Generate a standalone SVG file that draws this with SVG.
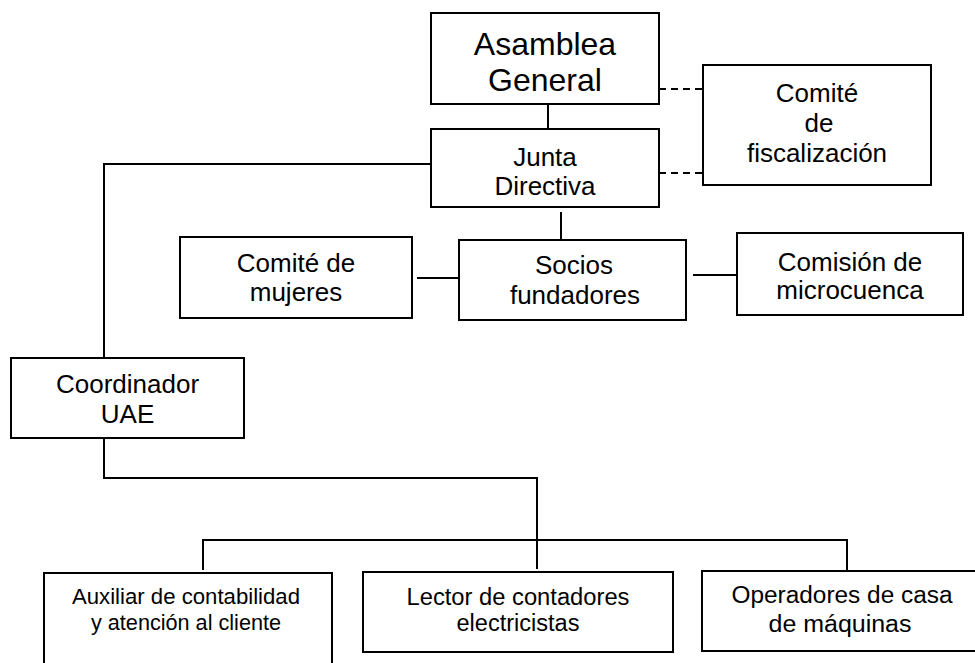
<svg xmlns="http://www.w3.org/2000/svg" width="975" height="663" viewBox="0 0 975 663">
<style>
.box{fill:#fff;stroke:#000;stroke-width:2}
.ln{fill:none;stroke:#000;stroke-width:2}
.dash{fill:none;stroke:#000;stroke-width:2;stroke-dasharray:7,5}
text{font-family:"Liberation Sans",Arial,sans-serif;fill:#000;text-anchor:middle}
.big{font-size:32px}
.mid{font-size:26px}
.sm{font-size:23px}
.xs{font-size:22px}
</style>
<rect width="975" height="663" fill="#fff"/>
<g id="connectors">
<line class="ln" x1="548" y1="104" x2="548" y2="129"/>
<line class="dash" x1="659" y1="89" x2="703" y2="89"/>
<line class="dash" x1="659" y1="173" x2="703" y2="173"/>
<polyline class="ln" points="431,164 104,164 104,358"/>
<line class="ln" x1="561" y1="212" x2="561" y2="240"/>
<line class="ln" x1="417" y1="278" x2="459" y2="278"/>
<line class="ln" x1="693" y1="275" x2="737" y2="275"/>
<polyline class="ln" points="104,438 104,478 537,478 537,569"/>
<polyline class="ln" points="203,570 203,540 847,540 847,570"/>
</g>
<g id="asamblea">
<rect class="box" x="431" y="13" width="228" height="91"/>
<text class="big" x="545" y="55">Asamblea</text>
<text class="big" x="545" y="91">General</text>
</g>
<g id="junta">
<rect class="box" x="431" y="129" width="228" height="78"/>
<text class="mid" x="545" y="166">Junta</text>
<text class="mid" x="545" y="195">Directiva</text>
</g>
<g id="fiscalizacion">
<rect class="box" x="703" y="65" width="228" height="120"/>
<text class="mid" x="817" y="102">Comité</text>
<text class="mid" x="819" y="132">de</text>
<text class="mid" x="817" y="162">fiscalización</text>
</g>
<g id="mujeres">
<rect class="box" x="180" y="237" width="232" height="81"/>
<text class="mid" x="296" y="272">Comité de</text>
<text class="mid" x="296" y="301">mujeres</text>
</g>
<g id="socios">
<rect class="box" x="459" y="240" width="227" height="80"/>
<text class="mid" x="574" y="274">Socios</text>
<text class="mid" x="575" y="304">fundadores</text>
</g>
<g id="microcuenca">
<rect class="box" x="737" y="233" width="226" height="82"/>
<text class="mid" x="850" y="271">Comisión de</text>
<text class="mid" x="850" y="299">microcuenca</text>
</g>
<g id="coordinador">
<rect class="box" x="11" y="358" width="233" height="80"/>
<text class="mid" x="127.500" y="393">Coordinador</text>
<text class="mid" x="127.500" y="423">UAE</text>
</g>
<g id="auxiliar">
<rect class="box" x="44" y="573" width="288" height="110"/>
<text class="xs" x="186" y="604" textLength="228" lengthAdjust="spacingAndGlyphs">Auxiliar de contabilidad</text>
<text class="xs" x="186" y="630" textLength="190" lengthAdjust="spacingAndGlyphs">y atención al cliente</text>
</g>
<g id="lector">
<rect class="box" x="363" y="572" width="310" height="80"/>
<text class="sm" x="518" y="605" textLength="223" lengthAdjust="spacingAndGlyphs">Lector de contadores</text>
<text class="sm" x="518" y="631" textLength="123" lengthAdjust="spacingAndGlyphs">electricistas</text>
</g>
<g id="operadores">
<rect class="box" x="702" y="571" width="276" height="80"/>
<text class="sm" x="842" y="603" textLength="221" lengthAdjust="spacingAndGlyphs">Operadores de casa</text>
<text class="sm" x="840" y="632" textLength="143" lengthAdjust="spacingAndGlyphs">de máquinas</text>
</g>
</svg>
